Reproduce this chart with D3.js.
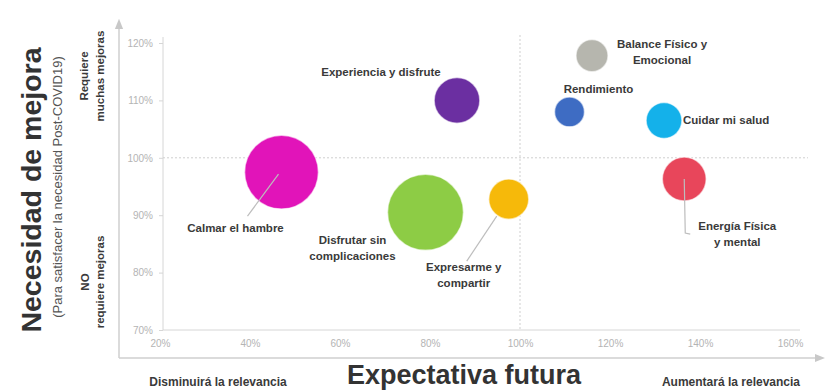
<!DOCTYPE html>
<html>
<head>
<meta charset="utf-8">
<script src="https://cdn.jsdelivr.net/npm/d3@7"></script>
<style>
  body { margin: 0; background: #fff; }
  text { font-family: Arial, "Liberation Sans", sans-serif; }
</style>
</head>
<body>
<script>
var width = 838, height = 390;

// data
var names = ['Calmar el hambre', 'Experiencia y disfrute', 'Disfrutar sin complicaciones',
  'Expresarme y compartir', 'Balance Físico y Emocional', 'Rendimiento',
  'Cuidar mi salud', 'Energía Física y mental'];
var expectativa = [47, 86, 79, 97.5, 116, 111, 132, 136.5];   // x, %
var necesidad = [97.5, 110, 90.5, 92.8, 117.8, 108, 106.5, 96.3]; // y, %
var tamano = [34, 13, 36, 10, 6.4, 5.6, 8, 12];
var colores = ['#e114b9', '#6b2fa1', '#8dcc45', '#f6b90a', '#b6b6ae', '#3e6cc3', '#14b1ea', '#e8465b'];
var xTicks = [20, 40, 60, 80, 100, 120, 140, 160];
var yTicks = [70, 80, 90, 100, 110, 120];

// label placement: lines, offset from bubble centre, anchor, leader
var labelLayout = {
  'Calmar el hambre': { lines: ['Calmar el hambre'], dx: -46, dy: 60, anchor: 'middle', leader: [[-3, 2], [-34, 44]] },
  'Experiencia y disfrute': { lines: ['Experiencia y disfrute'], dx: -76, dy: -24, anchor: 'middle' },
  'Disfrutar sin complicaciones': { lines: ['Disfrutar sin', 'complicaciones'], dx: -73, dy: 32, anchor: 'middle' },
  'Expresarme y compartir': { lines: ['Expresarme y', 'compartir'], dx: -45, dy: 72, anchor: 'middle', leader: [[-12, 17], [-42, 62]] },
  'Balance Físico y Emocional': { lines: ['Balance Físico y', 'Emocional'], dx: 70, dy: -8, anchor: 'middle' },
  'Rendimiento': { lines: ['Rendimiento'], dx: 29, dy: -19, anchor: 'middle' },
  'Cuidar mi salud': { lines: ['Cuidar mi salud'], dx: 19, dy: 4, anchor: 'start' },
  'Energía Física y mental': { lines: ['Energía Física', 'y mental'], dx: 53, dy: 51, anchor: 'middle', leader: [[0, 0], [1, 54], [6, 55]] }
};

var data = names.map(function(n, i) {
  return { name: n, x: expectativa[i], y: necesidad[i], s: tamano[i], c: colores[i] };
});

var svg = d3.select('body').append('svg')
  .attr('width', width)
  .attr('height', height);

var x = d3.scaleLinear().domain([20, 160]).range([160, 790]);
var y = d3.scaleLinear().domain([70, 120]).range([330, 43]);
var r = d3.scaleSqrt().domain([0, 36]).range([0, 38]);

var grey = '#d6d6d6';

// outer arrows
svg.append('defs').append('marker')
  .attr('id', 'arrow')
  .attr('viewBox', '0 0 10 10')
  .attr('refX', 5).attr('refY', 5)
  .attr('markerWidth', 7).attr('markerHeight', 7)
  .attr('orient', 'auto')
  .append('path')
  .attr('d', 'M0,1 L10,5 L0,9 z')
  .attr('fill', '#c8c8c8');

svg.append('line')
  .attr('x1', 119).attr('y1', 358).attr('x2', 119).attr('y2', 24)
  .attr('stroke', '#cfcfcf').attr('stroke-width', 1.5)
  .attr('marker-end', 'url(#arrow)');
svg.append('line')
  .attr('x1', 119).attr('y1', 358).attr('x2', 820).attr('y2', 358)
  .attr('stroke', '#cfcfcf').attr('stroke-width', 1.5)
  .attr('marker-end', 'url(#arrow)');

// axes
var yAxis = svg.append('g')
  .attr('transform', 'translate(163,0)')
  .call(d3.axisLeft(y).tickValues(yTicks).tickSize(4).tickFormat(function(d) { return d + '%'; }));
yAxis.select('.domain').attr('d', 'M0,' + (y(120) - 6) + 'V' + y(70)).attr('stroke', grey);
yAxis.selectAll('.tick line').attr('stroke', grey);
yAxis.selectAll('.tick text').attr('fill', '#b4b4b4').attr('font-size', 10).attr('x', -10);

var xAxis = svg.append('g')
  .attr('transform', 'translate(0,' + y(70) + ')')
  .call(d3.axisBottom(x).tickValues(xTicks).tickSize(0).tickFormat(function(d) { return d + '%'; }));
xAxis.select('.domain').attr('d', 'M163,0H800').attr('stroke', grey);
xAxis.selectAll('.tick text').attr('fill', '#b4b4b4').attr('font-size', 10).attr('y', 10);

// reference lines at 100%
svg.append('line')
  .attr('x1', 163).attr('x2', 808)
  .attr('y1', y(100)).attr('y2', y(100))
  .attr('stroke', '#cfcfcf').attr('stroke-dasharray', '2,2');
svg.append('line')
  .attr('x1', x(100)).attr('x2', x(100))
  .attr('y1', y(120) - 8).attr('y2', y(70))
  .attr('stroke', '#cfcfcf').attr('stroke-dasharray', '2,2');

// bubbles
svg.selectAll('circle.b')
  .data(data)
  .enter()
  .append('circle')
  .attr('class', 'b')
  .attr('cx', function(d) { return x(d.x); })
  .attr('cy', function(d) { return y(d.y); })
  .attr('r', function(d) { return r(d.s); })
  .attr('fill', function(d) { return d.c; })
  .attr('stroke', '#fff')
  .attr('stroke-opacity', 0.6)
  .attr('stroke-width', 1.5);

// leaders
data.forEach(function(d) {
  var L = labelLayout[d.name];
  if (!L.leader) return;
  var cx = x(d.x), cy = y(d.y);
  svg.append('path')
    .attr('d', d3.line()(L.leader.map(function(p) { return [cx + p[0], cy + p[1]]; })))
    .attr('fill', 'none')
    .attr('stroke', '#bdbdbd')
    .attr('stroke-width', 1.2);
});

// labels
data.forEach(function(d) {
  var L = labelLayout[d.name];
  var t = svg.append('text')
    .attr('x', x(d.x) + L.dx)
    .attr('y', y(d.y) + L.dy)
    .attr('text-anchor', L.anchor)
    .attr('font-size', 11.5)
    .attr('font-weight', 'bold')
    .attr('fill', '#3a3a3a');
  L.lines.forEach(function(line, i) {
    t.append('tspan')
      .attr('x', x(d.x) + L.dx)
      .attr('dy', i === 0 ? 0 : 16)
      .text(line);
  });
});

// left titles
function vText(cx, cy, txt, size, weight, fill) {
  svg.append('text')
    .attr('transform', 'translate(' + cx + ',' + cy + ') rotate(-90)')
    .attr('text-anchor', 'middle')
    .attr('dominant-baseline', 'central')
    .attr('font-size', size)
    .attr('font-weight', weight)
    .attr('fill', fill)
    .text(txt);
}
vText(31, 190, 'Necesidad de mejora', 28.5, 'bold', '#333');
vText(57, 187, '(Para satisfacer la necesidad Post-COVID19)', 13, 'normal', '#555');
vText(84, 76, 'Requiere', 11.5, 'bold', '#3a3a3a');
vText(100, 76, 'muchas mejoras', 11.5, 'bold', '#3a3a3a');
vText(85, 282, 'NO', 11.5, 'bold', '#3a3a3a');
vText(100, 282, 'requiere mejoras', 11.5, 'bold', '#3a3a3a');

// bottom titles
svg.append('text')
  .attr('x', 464).attr('y', 384)
  .attr('text-anchor', 'middle')
  .attr('font-size', 27)
  .attr('font-weight', 'bold')
  .attr('fill', '#333')
  .text('Expectativa futura');
svg.append('text')
  .attr('x', 218).attr('y', 386)
  .attr('text-anchor', 'middle')
  .attr('font-size', 12)
  .attr('font-weight', 'bold')
  .attr('fill', '#3a3a3a')
  .text('Disminuirá la relevancia');
svg.append('text')
  .attr('x', 731).attr('y', 386)
  .attr('text-anchor', 'middle')
  .attr('font-size', 12)
  .attr('font-weight', 'bold')
  .attr('fill', '#3a3a3a')
  .text('Aumentará la relevancia');
</script>
</body>
</html>
